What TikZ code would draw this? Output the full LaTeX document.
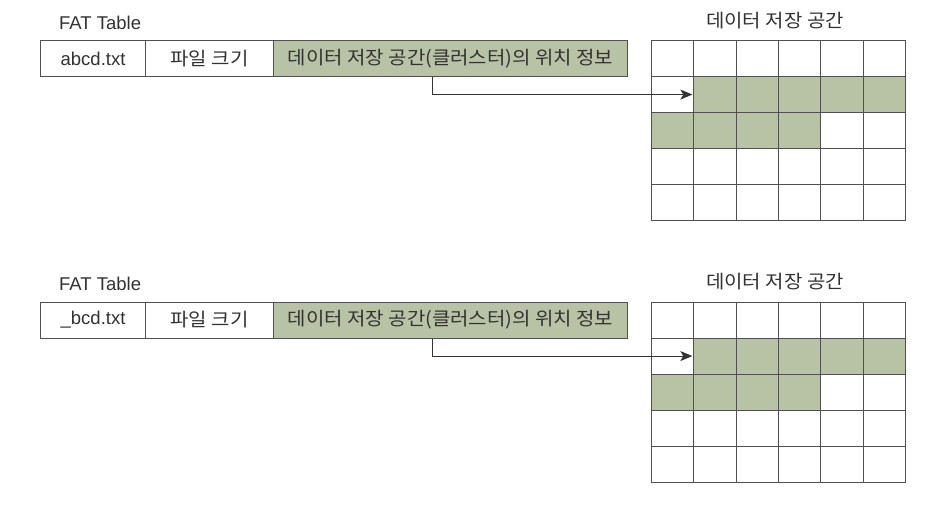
\documentclass[tikz,border=0pt]{standalone}
\usepackage{fontspec}
\setmainfont{Liberation Sans}
\newfontfamily\kr{Noto Sans CJK KR}[FakeStretch=1.08]
\usetikzlibrary{arrows.meta}
\definecolor{gfill}{RGB}{184,195,166}
\definecolor{lcol}{RGB}{80,80,80}
\definecolor{tcol}{RGB}{50,50,50}
\tikzset{
  lat/.style={font=\fontsize{18.5}{20}\selectfont, text=tcol},
  kor/.style={font=\kr\fontsize{18.5}{20}\selectfont, text=tcol},
  cell/.style={draw=lcol, line width=1.1pt, inner sep=0pt, minimum height=36pt, anchor=north west},
  gcell/.style={draw=lcol, line width=1.1pt, inner sep=0pt, minimum width=42.33pt, minimum height=36pt, anchor=north west},
  arr/.style={draw=black!80, line width=0.9pt, -{Stealth[length=12pt,width=10pt,inset=3pt]}}
}
\newcommand\fatpanel[3]{%
  \begin{scope}[yshift=#3]
    \node[lat, anchor=base west, inner sep=0pt] (#1title) at (59,29) {FAT Table};
    \node[cell, lat, minimum width=105pt] (#1name) at (40,40) {#2};
    \node[cell, kor, minimum width=128pt] (#1size) at (145,40) {파일 크기};
    \node[cell, kor, fill=gfill, minimum width=354pt] (#1loc) at (273,40) {데이터 저장 공간(클러스터)의 위치 정보};
    \node[kor, anchor=base, inner sep=0pt] (#1dtitle) at (775,27) {데이터 저장 공간};
    \foreach \rr in {1,...,5}{
      \foreach \cc in {1,...,6}{
        \node[gcell] (#1g\rr\cc) at ({651+(\cc-1)*42.33},{40+(\rr-1)*36}) {};
      }
    }
    \foreach \rr/\cc in {2/2,2/3,2/4,2/5,2/6,3/1,3/2,3/3,3/4}{
      \node[gcell, fill=gfill] (#1s\rr\cc) at ({651+(\cc-1)*42.33},{40+(\rr-1)*36}) {};
    }
    \draw[arr] ([xshift=-18pt]#1loc.south) |- ([xshift=-1pt]#1g22.west);
  \end{scope}}
\begin{document}
\begin{tikzpicture}[x=1pt,y=-1pt]
  \useasboundingbox (0,0) rectangle (940,507);
  \fill[white] (0,0) rectangle (940,507);
  \fatpanel{a}{abcd.txt}{0pt}
  \fatpanel{b}{\_bcd.txt}{-261.5pt}
\end{tikzpicture}
\end{document}
